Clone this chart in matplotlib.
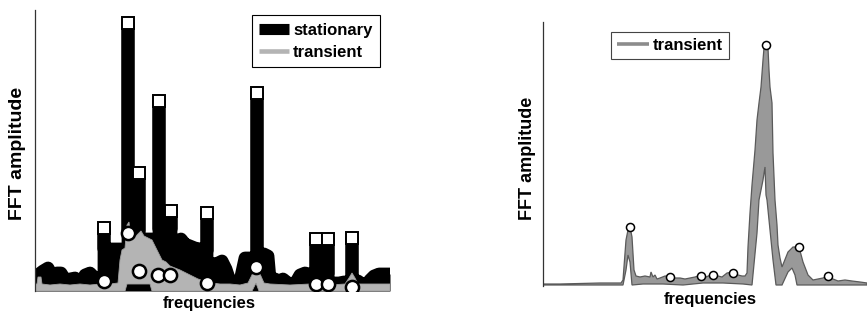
import numpy as np
import matplotlib
matplotlib.use("Agg")
import matplotlib.pyplot as plt
from matplotlib.lines import Line2D

plt.rcParams['font.family'] = ['Liberation Sans', 'DejaVu Sans']
plt.rcParams['font.weight'] = 'bold'

# ---- left panel: stationary vs transient spectrum (arbitrary units) ----
stat_freq = [0, 4, 8, 13, 18, 22, 26, 31, 35, 40, 46, 50, 55, 60, 69, 69, 69, 80,
             93, 93, 93, 104, 104, 104, 114, 124, 124, 124, 136, 136, 136, 142, 146,
             150, 155, 160, 165, 172, 172, 172, 178, 183, 187, 191, 195, 205, 210,
             222, 222, 222, 229, 233, 235, 240, 244, 248, 253, 257, 261, 265, 270,
             274, 281, 281, 281, 293, 293, 293, 299, 304, 309, 317, 317, 317, 323,
             327, 332, 335, 339, 344, 350, 355]
stat_amp = [8, 17, 20, 23, 14, 18, 18, 10, 12, 13, 8, 16, 18, 13, 13, 63, 42, 42,
            42, 268, 60, 60, 118, 52, 52, 52, 190, 62, 62, 80, 50, 50, 52,
            47, 45, 43, 42, 40, 78, 27, 27, 28, 30, 22, 10, 10, 33,
            33, 198, 37, 37, 35, 12, 12, 10, 12, 8, 7, 9, 16, 18,
            17, 17, 52, 17, 17, 52, 8, 8, 8, 9, 9, 53, 10, 10,
            7, 7, 11, 15, 17, 17, 17]

trans_freq = [0, 2, 3, 6, 7, 15, 25, 35, 45, 55, 65, 75, 83, 85, 87, 90, 92, 94,
              96, 98, 101, 104, 106, 109, 113, 117, 120, 123, 127, 131, 135, 140,
              145, 151, 157, 163, 170, 177, 185, 195, 205, 213, 217, 221, 225, 229,
              235, 255, 275, 295, 310, 314, 317, 320, 323, 335, 355]
trans_amp = [7, 7, 14, 14, 7, 6, 7, 6, 7, 6, 7, 7, 8, 31, 41, 43, 66, 69,
             51, 54, 55, 58, 60, 55, 53, 51, 45, 39, 31, 29, 25, 23,
             21, 18, 15, 12, 10, 8, 7, 7, 6, 8, 16, 29, 17, 8,
             7, 6, 7, 6, 7, 13, 18, 13, 7, 7, 7]
trans_low_freq = [0, 90, 92, 115, 117, 217, 221, 224, 355]
trans_low_amp = [0, 0, 7, 7, 0, 0, 8, 0, 0]

stat_peak_freq = [69, 93, 104, 124, 136, 172, 222, 281, 293, 317]
stat_peak_amp = [63, 268, 118, 190, 80, 78, 198, 52, 52, 53]
trans_peak_freq = [69, 93, 104, 123, 135, 172, 221, 281, 293, 317]
trans_peak_amp = [10, 58, 20, 16, 16, 8, 24, 7, 7, 4]

# ---- right panel: transient spectrum band ----
r_up_freq = [0, 17, 37, 57, 72, 78, 80, 83, 85, 87, 89, 91, 93, 97, 102, 107, 108,
             110, 112, 114, 117, 122, 127, 132, 137, 142, 147, 152, 158, 163, 170,
             175, 179, 184, 190, 195, 199, 202, 204, 205, 207, 209, 212, 214, 216,
             218, 220, 221, 223, 225, 226, 227, 229, 230, 232, 234, 235, 237, 239,
             241, 245, 250, 256, 260, 265, 270, 275, 280, 285, 290, 295, 302, 309,
             317, 324]
r_up_amp = [2, 2, 2.5, 3, 3, 3, 6, 46, 56, 59, 49, 16, 10, 9, 10, 9, 14,
            9, 11, 7, 8, 10, 10, 8, 8, 7, 8, 9, 11, 9, 12,
            10, 9, 13, 14, 11, 10, 10, 13, 39, 73, 101, 136, 166, 183,
            199, 226, 238, 241, 238, 216, 199, 183, 133, 86, 61, 41, 28, 19,
            24, 34, 39, 39, 24, 11, 6, 7, 8, 10, 7, 5, 6, 5,
            4, 3]
r_low_freq = [0, 80, 83, 85, 87, 89, 100, 120, 140, 160, 180, 200, 209, 214, 216,
              220, 222, 223, 224, 230, 233, 239, 245, 249, 252, 254, 269, 324]
r_low_amp = [1, 1, 16, 31, 24, 1, 2, 2, 1, 3, 3, 2, 1, 53, 86,
             106, 119, 91, 86, 26, 1, 1, 14, 18, 11, 1, 1, 1]
r_peak_freq = [87, 127, 158, 170, 190, 223, 256, 285]
r_peak_amp = [59, 9, 10, 11, 13, 241, 39, 10]

fig = plt.figure(figsize=(8.67, 3.13), dpi=100)

ax1 = fig.add_axes([35 / 867, 22 / 313, 355 / 867, 281 / 313])
ax1.fill_between(stat_freq, 0, stat_amp, color='black', lw=0, zorder=1)
ax1.plot(stat_freq, stat_amp, color='black', lw=9.2, solid_joinstyle='round',
         solid_capstyle='butt', zorder=1)
ax1.fill(np.r_[trans_freq, trans_low_freq[::-1]], np.r_[trans_amp, trans_low_amp[::-1]],
         facecolor='#b4b4b4', edgecolor='#a0a0a0', lw=0.6, zorder=2)
ax1.plot(stat_peak_freq, stat_peak_amp, 's', ms=9, mfc='white', mec='black', mew=1.4, zorder=3)
ax1.plot(trans_peak_freq, trans_peak_amp, 'o', ms=9.5, mfc='white', mec='black', mew=1.8, zorder=4)
ax1.set_xlim(0, 355)
ax1.set_ylim(0, 281)

handles1 = [Line2D([], [], color='black', lw=8, solid_capstyle='butt'),
            Line2D([], [], color='#b4b4b4', lw=3.3, solid_capstyle='butt')]
leg1 = ax1.legend(handles1, ['stationary', 'transient'], loc='upper right',
                  bbox_to_anchor=(0.972, 0.982), borderaxespad=0, fancybox=False,
                  edgecolor='black', framealpha=1, handlelength=1.8, handletextpad=0.25,
                  borderpad=0.45, labelspacing=0.42, prop={'weight': 'bold', 'size': 12})
leg1.get_frame().set_linewidth(0.8)

ax2 = fig.add_axes([543 / 867, 27 / 313, 324 / 867, 264 / 313])
ax2.fill(np.r_[r_up_freq, r_low_freq[::-1]], np.r_[r_up_amp, r_low_amp[::-1]],
         facecolor='#999999', edgecolor='#5a5a5a', lw=0.9, zorder=2)
ax2.plot(r_peak_freq, r_peak_amp, 'o', ms=5.8, mfc='white', mec='black', mew=1.1, zorder=4)
ax2.set_xlim(0, 324)
ax2.set_ylim(0, 264)

handles2 = [Line2D([], [], color='#8c8c8c', lw=2.6, solid_capstyle='butt')]
leg2 = ax2.legend(handles2, ['transient'], loc='upper left', bbox_to_anchor=(0.21, 0.962),
                  borderaxespad=0, fancybox=False, edgecolor='#444444', framealpha=1,
                  handlelength=1.95, handletextpad=0.2, borderpad=0.35,
                  prop={'weight': 'bold', 'size': 12})
leg2.get_frame().set_linewidth(0.8)

for ax, ysize, ylab_x, ylab_y, xlab_x, xlab_y in [(ax1, 14, -0.05, 0.489, 0.49, -0.043),
                                                  (ax2, 13, -0.049, 0.485, 0.515, -0.053)]:
    for s in ['top', 'right', 'bottom']:
        ax.spines[s].set_visible(False)
    ax.spines['left'].set_color('#333333')
    ax.spines['left'].set_linewidth(0.9)
    ax.set_xticks([])
    ax.set_yticks([])
    ax.set_ylabel('FFT amplitude', fontsize=ysize, fontweight='bold', va='center')
    ax.set_xlabel('frequencies', fontsize=12, fontweight='bold', va='center')
    ax.yaxis.set_label_coords(ylab_x, ylab_y)
    ax.xaxis.set_label_coords(xlab_x, xlab_y)

fig.savefig('out.png', dpi=100)
